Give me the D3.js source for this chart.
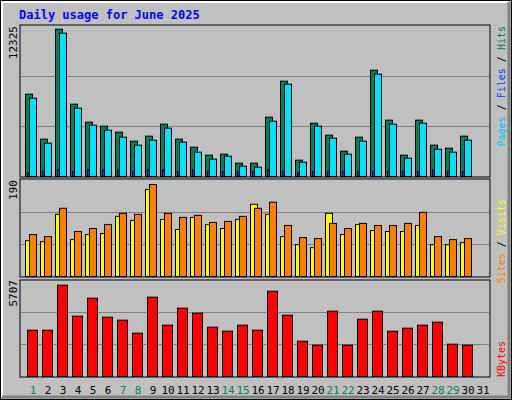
<!DOCTYPE html>
<html><head><meta charset="utf-8">
<script src="https://cdn.jsdelivr.net/npm/d3@7"></script>
<style>body{margin:0;background:#fff}</style>
</head><body>
<script>
const days = d3.range(1, 32).map(String);
const weekend = ["1","7","8","14","15","21","22","28","29"];
const hits = [6765,3068,12106,5944,4465,4136,3643,2903,3314,4300,3068,2410,1753,1835,1096,1096,4875,7834,1342,4382,3396,2082,3232,8737,4629,1753,4629,2575,2328,3314];
const files = [6601,2903,11942,5779,4382,3972,3396,2739,3150,4136,2986,2164,1589,1835,1013,931,4711,7751,1342,4300,3314,2000,3068,8573,4465,1671,4547,2410,2164,3150];
const pages = [300,420,550,420,550,550,550,420,550,550,420,550,420,420,420,420,550,420,300,420,420,420,420,420,420,420,420,550,420,420];
const sites = [71,69,123,73,83,85,119,111,172,113,93,117,103,95,113,143,123,79,63,57,125,83,103,91,89,89,101,63,63,67];
const visits = [83,79,135,89,95,103,125,123,182,125,117,121,107,109,119,135,147,101,77,75,105,95,105,101,101,105,127,79,73,75];
const kbytes = [2754,2754,5430,3587,4657,3527,3349,2576,4716,3052,4062,3765,2933,2695,3052,2754,5073,3646,2100,1863,3884,1863,3408,3884,2695,2873,3052,3230,1922,1863];
const maxHits = 12325, maxVisits = 190, maxKB = 5707;

const svg = d3.select("body").append("svg").attr("width",512).attr("height",400)
  .style("font-family","'DejaVu Sans Mono', monospace");
svg.append("rect").attr("width",512).attr("height",400).attr("fill","#000");
svg.append("rect").attr("x",1).attr("y",1).attr("width",510).attr("height",398).attr("fill","#c0c0c0");
svg.append("path").attr("d","M2,397V2H509").attr("stroke","#fff").attr("stroke-width",2).attr("fill","none");
svg.append("path").attr("d","M2,397H509V2").attr("stroke","#808080").attr("stroke-width",3).attr("fill","none");

svg.append("text").attr("x",19).attr("y",19).attr("fill","#0000ff").attr("font-weight","bold")
  .attr("font-size",12).text("Daily usage for June 2025");

const x = d3.scaleBand().domain(days).range([21,486]);
const L=20, R=490;
const panels = [
  {y: d3.scaleLinear().domain([0,maxHits]).range([176,26]), top:25, bot:177, max:maxHits},
  {y: d3.scaleLinear().domain([0,maxVisits]).range([276,180]), top:179, bot:277, max:maxVisits},
  {y: d3.scaleLinear().domain([0,maxKB]).range([376,280]), top:280, bot:377, max:maxKB}
];
panels.forEach(p=>{
  svg.append("rect").attr("x",L).attr("y",p.top).attr("width",R-L).attr("height",p.bot-p.top)
    .attr("fill","#c0c0c0").attr("stroke","#000");
  [1/3,2/3].forEach(f=>svg.append("line").attr("x1",L+1).attr("x2",R-1)
    .attr("y1",Math.round(p.y(p.max*f))+0.5).attr("y2",Math.round(p.y(p.max*f))+0.5).attr("stroke","#808080"));
  svg.append("text").attr("transform",`translate(17,${p.y(p.max)})rotate(-90)`)
    .attr("text-anchor","end").attr("font-size",11).attr("fill","#000").text(p.max);
});

function bars(data, p, dx, w, dy, fill){
  svg.append("g").selectAll("rect").data(data).join("rect")
    .attr("x",(d,i)=>x(days[i])+dx+0.5).attr("y",d=>p.y(d)+dy+0.5)
    .attr("width",w).attr("height",d=>p.y(0)-p.y(d)-dy)
    .attr("fill",fill).attr("stroke","#000");
}
bars(hits, panels[0], 4, 7, 0, "#00805c");
bars(files, panels[0], 8, 7, 2, "#00e0ff");
bars(pages, panels[0], 6, 2, 0, "#0040ff");
bars(sites, panels[1], 4, 7, 0, "#ffff00");
bars(visits, panels[1], 8, 7, 0, "#ff8000");
bars(kbytes, panels[2], 6, 10, 0, "#ff0000");

svg.append("g").selectAll("text").data(days).join("text")
  .attr("x",d=>x(d)+12).attr("y",394).attr("text-anchor","middle").attr("font-size",11)
  .attr("fill",d=>weekend.includes(d)?"#00805c":"#000").text(d=>d);

function rlabel(y, anchor, parts){
  const t = svg.append("text").attr("transform",`translate(505,${y})rotate(-90)`)
    .attr("text-anchor",anchor).attr("font-size",10);
  parts.forEach(([s,c])=>t.append("tspan").attr("fill",c).text(s));
}
rlabel(26, "end", [["Pages","#00c0ff"],[" / ","#000"],["Files","#0040ff"],[" / ","#000"],["Hits","#00805c"]]);
rlabel(199, "end", [["Sites","#ff8000"],[" / ","#000"],["Visits","#ffff00"]]);
rlabel(377, "start", [["KBytes","#ff0000"]]);
</script>
</body></html>
